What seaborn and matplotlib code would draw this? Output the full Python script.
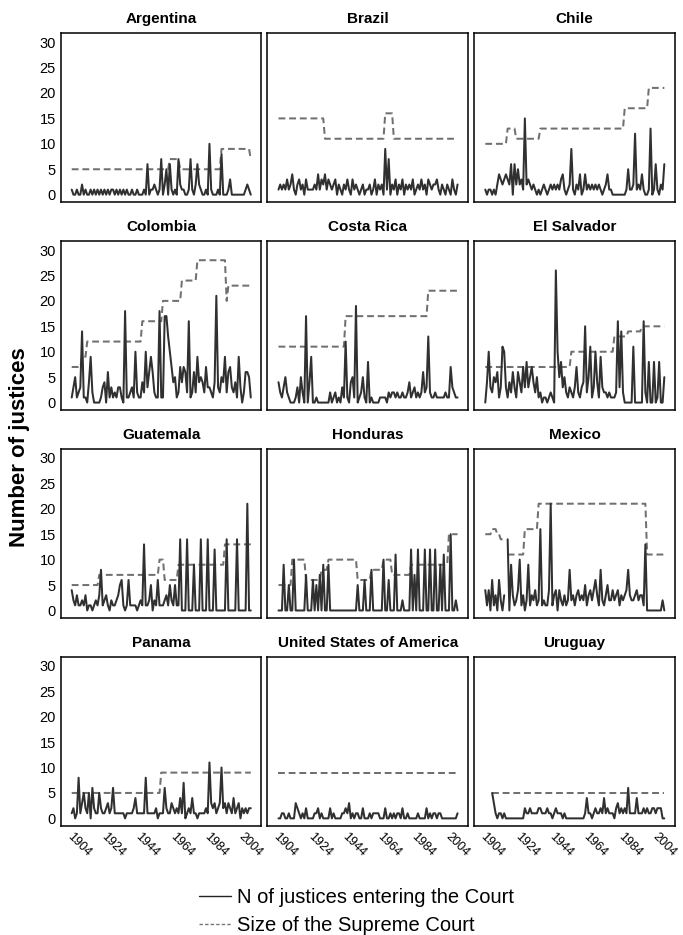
import numpy as np
import pandas as pd
import matplotlib
matplotlib.use("Agg")
import matplotlib.pyplot as plt
from matplotlib.lines import Line2D
import seaborn as sns

nan = float("nan")
years = list(range(1900, 2005))
countries = ["Argentina", "Brazil", "Chile", "Colombia", "Costa Rica", "El Salvador",
             "Guatemala", "Honduras", "Mexico", "Panama", "United States of America", "Uruguay"]
x_ticks = [1904, 1924, 1944, 1964, 1984, 2004]
y_ticks = [0, 5, 10, 15, 20, 25, 30]

# justices entering the court, one value per year 1900-2004
argentina_in = [1, 0, 0, 1, 0, 0, 2, 0, 1, 0,
                0, 1, 0, 1, 0, 1, 0, 1, 0, 1,
                0, 1, 0, 1, 1, 0, 1, 0, 1, 0,
                1, 0, 1, 0, 0, 1, 0, 0, 1, 0,
                0, 0, 1, 0, 6, 0, 1, 1, 2, 1,
                0, 1, 7, 0, 2, 5, 0, 6, 1, 0,
                1, 0, 7, 2, 1, 1, 0, 0, 1, 7,
                1, 0, 2, 6, 2, 1, 0, 0, 1, 0,
                10, 1, 0, 0, 0, 1, 0, 8, 0, 0,
                0, 1, 3, 0, 0, 0, 0, 0, 0, 0,
                0, 1, 2, 1, 0]
brazil_in = [1, 2, 1, 2, 1, 3, 1, 2, 4, 1,
             0, 2, 3, 1, 2, 0, 3, 1, 1, 1,
             1, 2, 1, 4, 1, 3, 2, 4, 1, 3,
             2, 1, 2, 3, 0, 2, 1, 0, 2, 1,
             3, 1, 0, 3, 1, 2, 1, 0, 1, 2,
             0, 1, 1, 2, 0, 1, 3, 0, 2, 1,
             2, 0, 9, 1, 7, 0, 2, 1, 3, 0,
             2, 1, 3, 0, 2, 1, 2, 1, 3, 0,
             1, 2, 1, 3, 1, 2, 0, 3, 2, 1,
             2, 2, 3, 1, 0, 2, 1, 0, 2, 1,
             0, 3, 1, 0, 2]
chile_in = [1, 0, 1, 1, 0, 1, 0, 2, 4, 3,
            2, 3, 4, 3, 2, 6, 0, 6, 2, 5,
            2, 3, 1, 15, 2, 3, 2, 1, 2, 1,
            0, 1, 0, 1, 2, 1, 0, 1, 2, 1,
            2, 1, 2, 1, 3, 4, 1, 0, 1, 2,
            9, 1, 0, 2, 1, 4, 0, 1, 4, 1,
            2, 1, 2, 1, 2, 1, 2, 1, 0, 1,
            2, 4, 1, 1, 0, 0, 0, 0, 0, 0,
            0, 0, 1, 5, 1, 1, 2, 12, 1, 2,
            1, 4, 1, 0, 0, 1, 13, 0, 1, 6,
            1, 0, 2, 1, 6]
colombia_in = [1, 3, 5, 1, 2, 3, 14, 1, 1, 0,
               4, 9, 2, 0, 0, 0, 0, 1, 3, 4,
               0, 6, 1, 3, 1, 2, 1, 3, 3, 1,
               0, 18, 1, 1, 2, 3, 1, 10, 2, 1,
               1, 4, 2, 10, 3, 6, 9, 6, 2, 1,
               1, 18, 1, 1, 17, 17, 13, 10, 7, 4,
               5, 1, 2, 7, 4, 7, 6, 2, 16, 1,
               2, 6, 2, 9, 4, 5, 4, 2, 7, 3,
               3, 2, 1, 4, 21, 3, 2, 5, 4, 9,
               2, 6, 7, 3, 2, 4, 1, 9, 3, 0,
               2, 6, 6, 5, 1]
costa_rica_in = [4, 2, 1, 3, 5, 2, 1, 0, 0, 0,
                 1, 3, 0, 5, 2, 0, 17, 0, 4, 9,
                 0, 0, 1, 0, 0, 0, 0, 0, 0, 0,
                 2, 0, 1, 2, 0, 1, 0, 3, 1, 12,
                 1, 0, 4, 5, 1, 19, 0, 1, 2, 5,
                 1, 0, 8, 0, 1, 0, 0, 0, 0, 1,
                 1, 1, 1, 0, 2, 1, 2, 2, 1, 2,
                 1, 1, 2, 1, 1, 2, 4, 1, 2, 3,
                 1, 2, 1, 2, 6, 2, 3, 13, 2, 1,
                 1, 2, 1, 1, 1, 1, 1, 2, 1, 1,
                 7, 3, 2, 1, 1]
el_salvador_in = [0, 4, 10, 3, 2, 5, 4, 6, 1, 3,
                  11, 10, 3, 1, 4, 2, 6, 3, 1, 6,
                  4, 2, 7, 3, 8, 3, 5, 7, 4, 2,
                  5, 1, 2, 0, 1, 1, 0, 1, 2, 1,
                  0, 26, 10, 5, 8, 3, 5, 2, 1, 3,
                  2, 1, 3, 7, 2, 1, 3, 4, 15, 2,
                  5, 11, 1, 3, 10, 4, 1, 9, 3, 2,
                  2, 1, 2, 1, 1, 1, 2, 16, 3, 14,
                  2, 0, 0, 0, 0, 0, 11, 0, 0, 0,
                  0, 0, 16, 2, 0, 8, 0, 0, 8, 0,
                  1, 8, 0, 0, 5]
guatemala_in = [4, 2, 1, 3, 1, 1, 2, 1, 3, 0,
                1, 1, 0, 1, 2, 1, 3, 8, 1, 2,
                3, 1, 0, 2, 1, 1, 2, 3, 5, 6,
                1, 0, 1, 6, 1, 1, 1, 1, 0, 1,
                2, 1, 13, 1, 1, 2, 5, 0, 2, 1,
                6, 1, 1, 1, 2, 3, 1, 5, 2, 1,
                5, 1, 1, 14, 0, 0, 0, 14, 0, 0,
                0, 9, 0, 0, 0, 14, 0, 0, 0, 14,
                0, 0, 0, 12, 0, 0, 0, 0, 0, 0,
                14, 0, 0, 0, 0, 0, 14, 0, 0, 0,
                0, 0, 21, 0, 0]
honduras_in = [0, 0, 0, 9, 0, 0, 5, 0, 0, 10,
               0, 0, 0, 0, 0, 0, 7, 0, 0, 0,
               6, 0, 5, 0, 7, 0, 9, 0, 0, 9,
               0, 0, 0, 0, 0, 0, 0, 0, 0, 0,
               0, 0, 0, 0, 0, 0, 5, 0, 0, 0,
               6, 0, 0, 0, 8, 0, 0, 0, 0, 0,
               0, 10, 0, 0, 6, 0, 0, 0, 11, 0,
               0, 0, 2, 0, 0, 0, 0, 12, 0, 7,
               0, 12, 0, 0, 0, 12, 0, 0, 12, 0,
               0, 12, 0, 0, 9, 0, 11, 0, 0, 0,
               15, 0, 0, 2, 0]
mexico_in = [4, 1, 4, 0, 6, 1, 3, 0, 6, 2,
             0, 3, nan, 14, 0, 9, 3, 1, 2, 4,
             10, 1, 3, 0, 2, 9, 1, 3, 2, 4,
             1, 2, 16, 1, 2, 1, 1, 4, 21, 1,
             3, 4, 0, 4, 2, 1, 3, 1, 2, 8,
             2, 3, 1, 3, 4, 2, 3, 2, 5, 1,
             3, 4, 2, 4, 6, 3, 1, 8, 2, 1,
             3, 5, 2, 2, 4, 2, 3, 4, 1, 3,
             2, 3, 4, 8, 3, 2, 2, 3, 4, 2,
             3, 3, 1, 13, 0, 0, 0, 0, 0, 0,
             0, 0, 0, 2, 0]
panama_in = [1, 2, 0, 1, 8, 1, 3, 5, 2, 1,
             5, 0, 6, 2, 1, 1, 5, 2, 1, 1,
             2, 3, 1, 2, 6, 1, 1, 1, 1, 1,
             1, 0, 1, 1, 1, 1, 2, 4, 1, 1,
             1, 1, 1, 8, 1, 1, 1, 1, 1, 2,
             0, 1, 1, 1, 6, 2, 1, 1, 3, 2,
             1, 2, 1, 4, 1, 7, 0, 1, 2, 1,
             4, 1, 1, 0, 1, 1, 1, 1, 2, 1,
             11, 3, 2, 3, 1, 2, 3, 10, 2, 3,
             1, 3, 2, 1, 4, 1, 2, 3, 0, 2,
             1, 2, 1, 2, 2]
usa_in = [0, 0, 1, 1, 0, 0, 1, 0, 0, 0,
          3, 2, 1, 0, 1, 0, 2, 0, 0, 0,
          0, 1, 1, 2, 0, 1, 0, 0, 0, 0,
          2, 0, 1, 0, 0, 0, 0, 1, 1, 2,
          1, 3, 0, 1, 0, 1, 1, 0, 0, 2,
          0, 0, 0, 1, 0, 1, 1, 1, 1, 0,
          0, 0, 2, 0, 0, 1, 0, 1, 0, 1,
          1, 0, 2, 0, 0, 1, 0, 0, 0, 0,
          0, 1, 0, 0, 0, 0, 2, 0, 1, 0,
          1, 1, 0, 1, 1, 0, 0, 0, 0, 0,
          0, 0, 0, 0, 1]
uruguay_in = [nan, nan, nan, nan, 5, 3, 1, 0, 1, 1,
              0, 1, 0, 0, 0, 0, 0, 0, 0, 0,
              0, 0, 0, 2, 1, 1, 2, 1, 1, 1,
              1, 2, 2, 1, 1, 1, 2, 1, 1, 0,
              1, 2, 1, 1, 1, 0, 1, 0, 0, 0,
              0, 0, 0, 0, 0, 0, 0, 0, 1, 4,
              1, 1, 0, 1, 2, 1, 1, 2, 1, 4,
              1, 2, 1, 1, 1, 0, 2, 3, 1, 2,
              1, 2, 1, 6, 1, 1, 1, 1, 4, 1,
              1, 1, 2, 1, 2, 1, 1, 2, 2, 1,
              2, 2, 2, 0, 0]

# size of the supreme court, one value per year 1900-2004
argentina_size = [5] * 57 + [7] * 6 + [5] * 24 + [9] * 17 + [7]
brazil_size = [15] * 27 + [11] * 35 + [16] * 5 + [11] * 38
chile_size = [10] * 13 + [13] * 5 + [11] * 14 + [13] * 49 + [17] * 14 + [21] * 10
colombia_size = [7] * 6 + [9] * 3 + [12] * 32 + [16] * 12 + [20] * 11 + [24] * 9 + [28] * 17 + [20] + [23] * 14
costa_rica_size = [11] * 39 + [17] * 48 + [22] * 18
el_salvador_size = [7] * 50 + [10] * 25 + [13] * 8 + [14] * 8 + [15] * 14
guatemala_size = [5] * 16 + [7] * 35 + [10] * 3 + [6] * 8 + [9] * 27 + [13] * 16
honduras_size = ([5] * 8 + [10] * 8 + [6] * 9 + [8] * 4 + [10] * 17 + [6] * 8 + [8] * 7
                 + [10] * 5 + [7] * 11 + [9] * 22 + [15] * 6)
mexico_size = [15] * 4 + [16] * 3 + [15] * 2 + [14] * 3 + [nan] + [11] * 10 + [16] * 8 + [21] * 63 + [11] * 11
panama_size = [5] * 52 + [9] * 53
usa_size = [9] * 105
uruguay_size = [nan] * 4 + [5] * 101

entering = [argentina_in, brazil_in, chile_in, colombia_in, costa_rica_in, el_salvador_in,
            guatemala_in, honduras_in, mexico_in, panama_in, usa_in, uruguay_in]
sizes = [argentina_size, brazil_size, chile_size, colombia_size, costa_rica_size, el_salvador_size,
         guatemala_size, honduras_size, mexico_size, panama_size, usa_size, uruguay_size]

frames = []
for name, ent, size in zip(countries, entering, sizes):
    for series, vals in (("size", size), ("entering", ent)):
        v = pd.Series(vals, dtype=float)
        frames.append(pd.DataFrame({"country": name, "year": years, "value": v,
                                    "series": series, "seg": v.isna().cumsum()}))
df = pd.concat(frames, ignore_index=True).dropna(subset=["value"])

sns.set_style("white")
plt.rcParams["font.family"] = ["Liberation Sans", "DejaVu Sans"]
plt.rcParams["text.color"] = "black"
plt.rcParams["xtick.color"] = "black"
plt.rcParams["ytick.color"] = "black"

fig, axes = plt.subplots(4, 3, figsize=(6.83, 9.35), dpi=100, sharex=True, sharey=True)
fig.subplots_adjust(left=60.7 / 683, right=675 / 683, top=1 - 33 / 935, bottom=1 - 826 / 935,
                    wspace=0.03, hspace=0.228)

for ax, name in zip(axes.flat, countries):
    d = df[df["country"] == name]
    sns.lineplot(data=d, x="year", y="value", hue="series", style="series", units="seg",
                 estimator=None, hue_order=["size", "entering"], style_order=["size", "entering"],
                 palette={"size": "#707070", "entering": "#303030"},
                 dashes={"size": (3.4, 1.9), "entering": ""}, linewidth=1.45, legend=False, ax=ax)
    ax.set_title(name, fontsize=11, fontweight="bold", pad=7, color="black")
    ax.set_xlabel("")
    ax.set_ylabel("")
    ax.set_xlim(1893.6, 2010.2)
    ax.set_ylim(-1.5, 31.8)
    ax.set_xticks(x_ticks)
    ax.set_yticks(y_ticks)
    ax.tick_params(length=0, labelsize=10.5, pad=3.5)
    for sp in ax.spines.values():
        sp.set_visible(True)
        sp.set_color("black")
        sp.set_linewidth(1.1)

for ax in axes[-1]:
    ax.tick_params(axis="x", labelsize=9, pad=3)
    plt.setp(ax.get_xticklabels(), rotation=-45)

fig.text(20 / 683, 1 - 447 / 935, "Number of justices", rotation=90, ha="center", va="center",
         fontsize=16, fontweight="bold")

handles = [Line2D([], [], color="#222222", lw=1.0),
           Line2D([], [], color="#777777", lw=1.0, dashes=(2.5, 1.5))]
fig.legend(handles, ["N of justices entering the Court", "Size of the Supreme Court"],
           loc="upper left", bbox_to_anchor=(199 / 683, 1 - 888 / 935), frameon=False,
           fontsize=14.5, handlelength=1.6, handletextpad=0.3, labelspacing=0.45,
           borderpad=0, borderaxespad=0)

fig.savefig("out.png", dpi=100)
